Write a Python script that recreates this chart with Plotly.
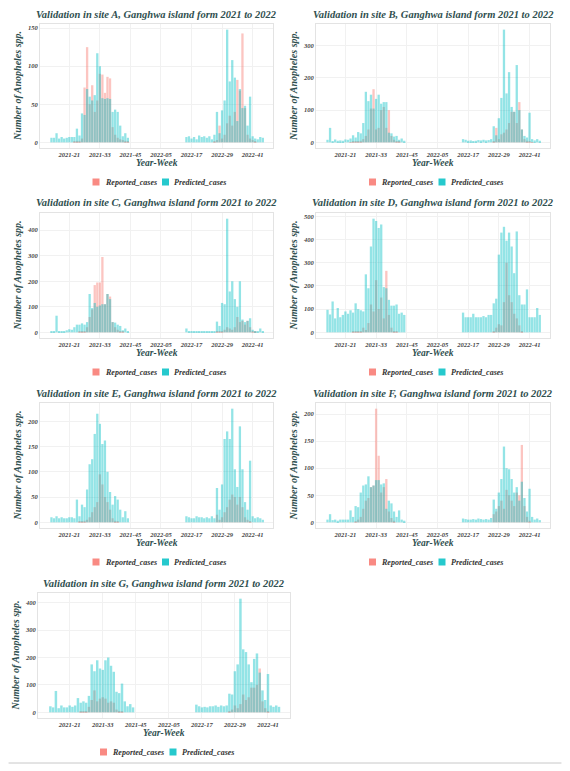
import plotly.graph_objects as go

# ---------------- data ----------------
week_labels = [f"2021-{w:02d}" for w in range(14, 45)] + [f"2022-{w:02d}" for w in range(15, 46)]
tick_labels = ["2021-21", "2021-33", "2021-45", "2022-05", "2022-17", "2022-29", "2022-41"]
series_names = ["Reported_cases", "Predicted_cases"]

reported_A = [0,0,0,0,0,0,0,0,0,1,2,2,5,72,125,50,75,40,55,90,89,65,86,84,20,10,6,4,3,2,1,
              0,0,0,0,0,0,0,0,0,0,0,1,3,22,5,10,25,35,22,40,82,68,143,45,10,5,3,1,0,0,0]
predicted_A = [6,6,12,5,7,5,6,7,7,7,18,9,38,36,70,60,55,62,117,100,58,57,58,57,40,43,40,22,8,12,6,
               7,8,5,7,4,9,7,8,6,8,4,10,40,12,42,55,148,80,108,85,28,70,45,48,22,60,8,5,4,7,6]

reported_B = [0,0,0,0,0,0,0,0,0,1,2,3,3,5,10,20,40,105,165,40,45,100,110,45,100,20,8,3,2,0,0,
              0,0,0,0,0,0,0,0,0,0,0,0,3,45,10,25,30,40,60,95,95,60,125,40,10,5,2,1,0,0,0]
predicted_B = [8,45,4,9,5,6,5,9,8,12,22,15,32,28,60,157,128,148,105,135,148,120,125,125,30,28,18,20,8,12,5,
               10,8,5,6,4,5,7,6,8,6,7,10,50,22,75,138,350,152,218,110,95,240,100,40,20,15,92,10,6,10,5]

reported_C = [0,0,0,0,0,0,0,0,0,0,0,2,3,5,20,60,90,185,195,195,295,110,150,140,40,20,10,5,2,0,0,
              0,0,0,0,0,0,0,0,0,0,0,0,2,5,5,10,20,15,10,20,60,40,45,30,45,20,5,2,0,0,0]
predicted_C = [3,3,65,5,4,5,8,12,10,20,30,30,35,30,40,150,95,115,100,105,110,110,150,130,40,38,30,25,8,15,5,
               15,5,3,4,3,5,4,3,4,3,5,4,42,25,115,110,445,160,200,130,100,200,50,40,45,55,10,5,5,15,5]

reported_D = [0,0,0,0,0,0,0,0,0,0,2,3,5,5,20,10,40,120,90,225,100,150,60,265,75,20,5,2,0,0,0,
              0,0,0,0,0,0,0,0,0,0,0,0,5,20,35,30,130,300,160,130,80,60,30,5,0,0,0,0,0,0,0]
predicted_D = [97,77,133,60,105,65,75,90,80,95,85,125,100,95,90,250,190,370,490,480,450,465,195,190,140,115,115,120,80,85,75,
               85,65,65,65,80,65,65,65,70,65,75,75,125,145,335,430,455,395,430,370,255,435,160,120,120,185,65,65,65,105,75]

reported_E = [0,0,0,0,0,0,0,0,0,0,0,1,2,3,5,10,20,30,40,95,75,50,40,25,8,3,1,0,0,0,0,
              0,0,0,0,0,0,0,0,0,0,0,0,15,5,10,20,30,45,55,50,35,50,30,10,5,2,0,0,0,0,0]
predicted_E = [10,8,12,8,10,8,8,10,10,8,45,12,35,30,65,115,125,175,215,195,155,162,100,60,35,52,45,25,10,22,8,
               12,10,8,8,12,10,10,8,10,8,12,8,68,25,75,165,180,165,225,105,70,190,105,40,25,122,12,8,10,8,5]

reported_F = [0,0,0,0,0,0,0,0,0,0,0,2,5,10,25,40,45,65,68,210,123,55,65,80,20,8,3,0,0,0,0,
              0,0,0,0,0,0,0,0,0,0,0,0,15,20,30,40,25,60,50,40,30,55,50,143,30,10,3,0,0,0,0]
predicted_F = [5,15,4,5,3,5,5,5,5,22,10,30,28,55,68,70,85,65,68,78,78,70,72,25,40,35,20,10,22,5,3,
               7,6,5,5,6,5,7,6,5,6,5,8,42,25,55,80,140,100,98,80,55,65,40,75,45,20,62,10,5,7,4]

reported_G = [0,0,0,0,0,0,0,0,0,0,0,2,3,5,20,45,80,40,50,55,50,35,40,35,10,5,2,0,0,0,0,
              0,0,0,0,0,0,0,0,0,0,0,0,5,10,25,15,30,65,45,55,90,90,100,160,40,15,5,0,0,0,0]
predicted_G = [22,18,78,15,25,18,18,25,20,25,52,35,40,35,60,175,150,190,160,155,190,200,170,148,75,70,105,40,22,30,18,
               28,22,18,20,18,22,22,25,20,25,22,25,68,65,150,175,415,230,220,175,110,195,215,145,80,45,140,25,20,25,20]

site_names = ["A", "B", "C", "D", "E", "F", "G"]
site_reported = [reported_A, reported_B, reported_C, reported_D, reported_E, reported_F, reported_G]
site_predicted = [predicted_A, predicted_B, predicted_C, predicted_D, predicted_E, predicted_F, predicted_G]
y_dticks = [50, 100, 100, 100, 50, 50, 100]

# ---------------- helpers ----------------
def week_index(label):
    yr, wk = label.split("-")
    return int(wk) + (52 if yr == "2022" else 0)

x_vals = [week_index(l) for l in week_labels]
tick_vals = [week_index(l) for l in tick_labels]

W, H = 570, 771
def px_x(p): return p / W
def px_y(p): return 1 - p / H

# panel boxes in pixels: (left, right, top, bottom)
boxes = [
    (40, 273, 24, 148), (316, 550, 24, 148),
    (40, 273, 213, 338), (316, 550, 213, 338),
    (40, 273, 403, 528), (316, 550, 403, 528),
    (38, 290, 593, 718),
]

FONT = "Liberation Serif, Times New Roman, serif"
TITLE_COLOR = "#2F4F4F"
SALMON = "#F8766D"
CYAN = "#00BFC4"
series_colors = [SALMON, CYAN]

fig = go.Figure()
annotations = []
shapes = []
layout_extra = {}

for i, name in enumerate(site_names):
    n = i + 1
    xa = "x" if n == 1 else f"x{n}"
    ya = "y" if n == 1 else f"y{n}"
    rep = site_reported[i]
    pred = site_predicted[i]
    for vals, sname, col in zip([rep, pred], series_names, series_colors):
        fig.add_trace(go.Bar(x=x_vals, y=vals, name=sname, marker_color=col,
                             opacity=0.42, width=0.9, xaxis=xa, yaxis=ya,
                             legendgroup=sname, showlegend=False, marker_line_width=0))

    l, r, t, b = boxes[i]
    ymax = max(max(rep), max(pred))
    axis_common = dict(showline=True, mirror=True, linecolor="#E3E3E3", linewidth=1,
                       showgrid=True, gridcolor="#F1F1F1", gridwidth=1, zeroline=False,
                       ticks="", tickfont=dict(family=FONT, size=6.5, color="#444444",
                                               weight="bold", style="italic"))
    xkey = "xaxis" if n == 1 else f"xaxis{n}"
    ykey = "yaxis" if n == 1 else f"yaxis{n}"
    layout_extra[xkey] = dict(domain=[px_x(l), px_x(r)], anchor=ya, range=[9.5, 101],
                              tickmode="array", tickvals=tick_vals, ticktext=tick_labels,
                              **axis_common)
    layout_extra[ykey] = dict(domain=[px_y(b), px_y(t)], anchor=xa,
                              range=[-0.05 * ymax, 1.05 * ymax], dtick=y_dticks[i],
                              **axis_common)
    cx = (l + r) / 2
    # panel title
    annotations.append(dict(text=f"Validation in site {name}, Ganghwa island form 2021 to 2022",
                            x=px_x(cx), y=px_y(t - 10), xref="paper", yref="paper",
                            showarrow=False, xanchor="center", yanchor="middle",
                            font=dict(family=FONT, size=10.5, color=TITLE_COLOR,
                                      weight="bold", style="italic")))
    # x-axis title
    annotations.append(dict(text="Year-Week", x=px_x(cx), y=px_y(b + 15),
                            xref="paper", yref="paper", showarrow=False,
                            xanchor="center", yanchor="middle",
                            font=dict(family=FONT, size=9.5, color=TITLE_COLOR,
                                      weight="bold", style="italic")))
    # y-axis title
    annotations.append(dict(text="Number of Anopheles spp.", x=px_x(l - 23), y=px_y((t + b) / 2),
                            xref="paper", yref="paper", showarrow=False, textangle=-90,
                            xanchor="center", yanchor="middle",
                            font=dict(family=FONT, size=10, color=TITLE_COLOR,
                                      weight="bold", style="italic")))
    # legend (key squares + labels)
    ly = b + 34
    for k, (sname, col) in enumerate(zip(series_names, series_colors)):
        kx = cx - 64 + k * 69.5
        shapes.append(dict(type="rect", xref="paper", yref="paper",
                           x0=px_x(kx), x1=px_x(kx + 7), y0=px_y(ly + 3.5), y1=px_y(ly - 3.5),
                           fillcolor=col, opacity=0.85, line=dict(width=0)))
        annotations.append(dict(text=sname, x=px_x(kx + 10), y=px_y(ly),
                                xref="paper", yref="paper", showarrow=False,
                                xanchor="left", yanchor="middle",
                                font=dict(family=FONT, size=8, color="#333333",
                                          weight="bold", style="italic")))

shapes.append(dict(type="line", xref="paper", yref="paper", x0=0.015, x1=0.985,
                   y0=px_y(763), y1=px_y(763), line=dict(color="#C8C8C8", width=1)))

fig.update_layout(
    width=W, height=H, margin=dict(l=0, r=0, t=0, b=0),
    paper_bgcolor="white", plot_bgcolor="white",
    barmode="overlay", bargap=0.1, showlegend=False,
    annotations=annotations, shapes=shapes,
    **layout_extra,
)

fig.write_html("out.html", config={"displayModeBar": False},
               post_script="document.body.style.margin='0';")
